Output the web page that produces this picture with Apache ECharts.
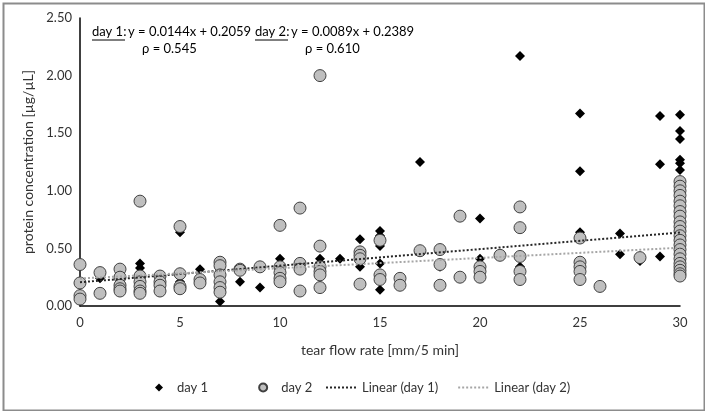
<!DOCTYPE html>
<html><head><meta charset="utf-8">
<script src="https://cdn.jsdelivr.net/npm/echarts@6/dist/echarts.min.js"></script>
<style>html,body{margin:0;padding:0;background:#fff}#c{width:705px;height:411px}</style>
</head><body><div id="c"></div>
<script>
var xTicks = [0, 5, 10, 15, 20, 25, 30];
var yTicks = [0, 0.5, 1.0, 1.5, 2.0, 2.5];
var day1 = [
  [0,0.21],[1,0.24],[2,0.24],[2,0.20],[3,0.37],[3,0.33],[3,0.29],[4,0.18],
  [5,0.64],[5,0.21],[5,0.15],[6,0.32],[7,0.04],[8,0.21],[9,0.16],[10,0.41],
  [12,0.41],[12,0.25],[13,0.41],[14,0.58],[14,0.34],
  [15,0.65],[15,0.61],[15,0.52],[15,0.37],[15,0.24],[15,0.14],
  [17,1.25],[18,0.34],[20,0.76],[20,0.41],[22,2.17],[22,0.34],
  [25,1.67],[25,1.17],[25,0.64],[27,0.63],[27,0.45],[28,0.39],
  [29,1.65],[29,1.23],[29,0.43],
  [30,1.66],[30,1.52],[30,1.45],[30,1.27],[30,1.24],[30,1.18],[30,0.78],[30,0.45],[30,0.33]
];
var day2 = [
  [0,0.36],[0,0.20],[0,0.09],[0,0.06],[1,0.29],[1,0.11],
  [2,0.32],[2,0.25],[2,0.18],[2,0.15],[2,0.13],
  [3,0.91],[3,0.26],[3,0.21],[3,0.17],[3,0.13],[3,0.11],
  [4,0.26],[4,0.21],[4,0.18],[4,0.13],[5,0.69],[5,0.28],[5,0.17],[5,0.15],
  [6,0.23],[6,0.20],[7,0.38],[7,0.35],[7,0.27],[7,0.21],[7,0.16],[7,0.12],
  [8,0.32],[8,0.31],[9,0.34],[10,0.70],[10,0.34],[10,0.29],[10,0.24],[10,0.21],
  [11,0.85],[11,0.37],[11,0.32],[11,0.13],[12,2.00],[12,0.52],[12,0.34],[12,0.30],[12,0.27],[12,0.16],
  [14,0.47],[14,0.44],[14,0.41],[14,0.19],[15,0.57],[15,0.27],[15,0.23],
  [16,0.24],[16,0.18],[17,0.48],[18,0.49],[18,0.36],[18,0.18],[19,0.78],[19,0.25],
  [20,0.34],[20,0.30],[20,0.25],[21,0.44],[22,0.86],[22,0.68],[22,0.43],[22,0.30],[22,0.23],
  [25,0.59],[25,0.38],[25,0.34],[25,0.30],[25,0.23],[26,0.17],[28,0.42],
  [30,1.08],[30,1.04],[30,1.00],[30,0.96],[30,0.91],[30,0.87],[30,0.82],[30,0.78],[30,0.73],
  [30,0.69],[30,0.65],[30,0.61],[30,0.57],[30,0.53],[30,0.49],[30,0.45],[30,0.41],[30,0.37],
  [30,0.34],[30,0.31],[30,0.28],[30,0.26]
];
var trend1 = [[0,0.2059],[30,0.6379]];
var trend2 = [[0,0.2389],[30,0.5059]];
var seriesNames = ['day 1','day 2','Linear (day 1)','Linear (day 2)'];

var FONT = 'Lato';
var DOTS = 'path://M0,0h2v2h-2zM4,0h2v2h-2zM8,0h2v2h-2zM12,0h2v2h-2zM16,0h2v2h-2zM20,0h2v2h-2zM24,0h2v2h-2zM28,0h2v2h-2z';
var DISC = 'path://M5,0A5,5,0,1,1,4.99,0z';
var RHOMB = 'path://M5,0L10,5L5,10L0,5z';
var chart = echarts.init(document.getElementById('c'), null, {renderer:'canvas'});
chart.setOption({
  animation:false,
  textStyle:{fontFamily:FONT},
  grid:{left:80,right:25,top:18,bottom:105,containLabel:false},
  xAxis:{type:'value',min:0,max:30,interval:5,
    name:'tear flow rate [mm/5 min]',nameLocation:'middle',nameGap:37,
    nameTextStyle:{color:'#333',fontSize:14,fontFamily:FONT},
    axisLine:{show:true,lineStyle:{color:'#000',width:1.5}},
    axisTick:{show:false},splitLine:{show:false},
    axisLabel:{color:'#333',fontSize:13,margin:10,fontFamily:FONT}},
  yAxis:{type:'value',min:0,max:2.5,interval:0.5,
    name:'protein concentration [µg/µL]',nameLocation:'middle',nameGap:39,
    nameTextStyle:{color:'#333',fontSize:14,fontFamily:FONT},
    axisLine:{show:true,lineStyle:{color:'#000',width:1.5}},
    axisTick:{show:false},splitLine:{show:false},
    axisLabel:{color:'#333',fontSize:13,margin:8,fontFamily:FONT,formatter:function(v){return v.toFixed(2);}}},
  legend:[
    {top:376,left:150,itemGap:50,itemWidth:8,itemHeight:8,
     textStyle:{color:'#333',fontSize:13,fontFamily:FONT,padding:[0,0,0,9]},
     data:[{name:seriesNames[0],icon:RHOMB},{name:seriesNames[1],icon:DISC}]},
    {top:376,left:321,itemGap:20,itemWidth:32,itemHeight:2,
     textStyle:{color:'#333',fontSize:13,fontFamily:FONT},
     data:[{name:seriesNames[2],icon:DOTS},{name:seriesNames[3],icon:DOTS}]}
  ],
  series:[
    {name:seriesNames[0],type:'scatter',data:day1,symbol:'diamond',symbolSize:10,z:2,
      itemStyle:{color:'#000',opacity:1}},
    {name:seriesNames[1],type:'scatter',data:day2,symbol:'circle',symbolSize:12,z:3,
      itemStyle:{color:'#BFBFBF',borderColor:'#404040',borderWidth:1,opacity:1}},
    {name:seriesNames[2],type:'line',data:trend1,showSymbol:false,symbol:'none',z:4,
      lineStyle:{color:'#262626',width:2,type:[2,2]},itemStyle:{color:'#262626'}},
    {name:seriesNames[3],type:'line',data:trend2,showSymbol:false,symbol:'none',z:4,
      lineStyle:{color:'#A6A6A6',width:2,type:[2,2]},itemStyle:{color:'#A6A6A6'}}
  ],
  graphic:[
    {type:'rect',left:1,top:1,shape:{x:0,y:0,width:701,height:407},style:{fill:'none',stroke:'#8c8c8c',lineWidth:2},z:-1},
    {type:'text',left:92,top:25,style:{text:'day 1:',font:'13px '+FONT,fill:'#000'}},
    {type:'line',shape:{x1:92,y1:40,x2:125,y2:40},style:{stroke:'#000',lineWidth:1}},
    {type:'text',left:128,top:25,style:{text:'y = 0.0144x + 0.2059',font:'13px '+FONT,fill:'#000'}},
    {type:'text',left:142,top:42,style:{text:'ρ = 0.545',font:'13px '+FONT,fill:'#000'}},
    {type:'text',left:255,top:25,style:{text:'day 2:',font:'13px '+FONT,fill:'#000'}},
    {type:'line',shape:{x1:255,y1:40,x2:288,y2:40},style:{stroke:'#000',lineWidth:1}},
    {type:'text',left:291,top:25,style:{text:'y = 0.0089x + 0.2389',font:'13px '+FONT,fill:'#000'}},
    {type:'text',left:305,top:42,style:{text:'ρ = 0.610',font:'13px '+FONT,fill:'#000'}}
  ]
});
</script></body></html>
